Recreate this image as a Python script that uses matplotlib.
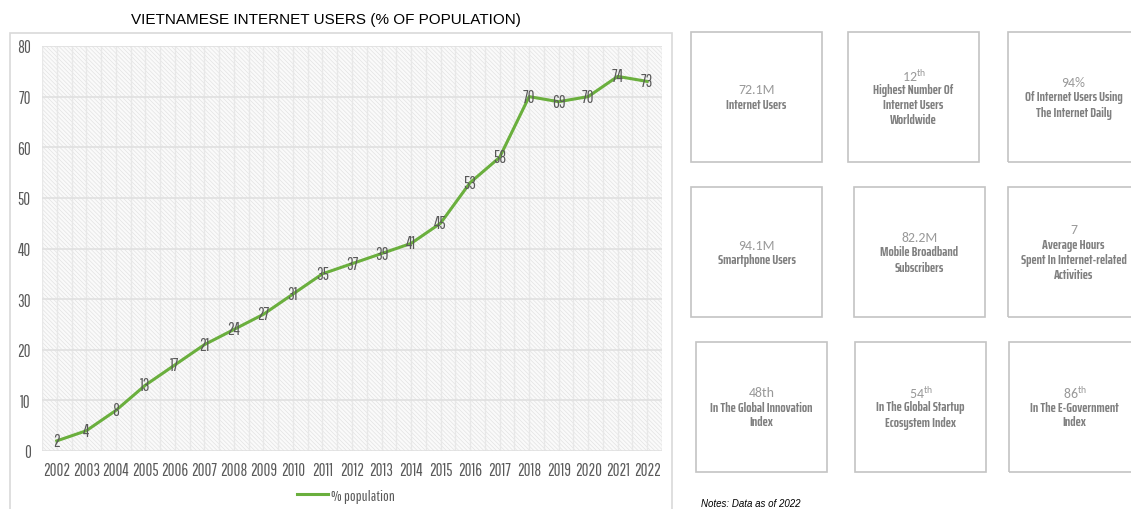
"""
Vietnamese internet users line chart with key figure boxes.
"""
import matplotlib
matplotlib.use('Agg')
import matplotlib.pyplot as plt
from matplotlib.patches import Rectangle

years = [str(y) for y in range(2002, 2023)]
pct_population = [2, 4, 8, 13, 17, 21, 24, 27, 31, 35, 37, 39, 41, 45,
                  53, 58, 70, 69, 70, 74, 73]
y_ticks = [0, 10, 20, 30, 40, 50, 60, 70, 80]

box_values = ['72.1M', r'12$^{\mathrm{th}}$', '94%',
              '94.1M', '82.2M', '7',
              '48th', r'54$^{\mathrm{th}}$', r'86$^{\mathrm{th}}$']
box_labels = [['Internet Users'],
              ['Highest Number Of', 'Internet Users', 'Worldwide'],
              ['Of Internet Users Using', 'The Internet Daily'],
              ['Smartphone Users'],
              ['Mobile Broadband', 'Subscribers'],
              ['Average Hours', 'Spent In Internet-related', 'Activities'],
              ['In The Global Innovation', 'Index'],
              ['In The Global Startup', 'Ecosystem Index'],
              ['In The E-Government', 'Index']]

W, H = 1131, 510
narrow = ['Pathway Gothic One', 'DejaVu Sans']
narrow_bold = ['Saira ExtraCondensed', 'DejaVu Sans']
green = '#6aaf3d'
grey_txt = '#595959'

plt.rcParams['mathtext.fontset'] = 'custom'
plt.rcParams['mathtext.rm'] = 'Carlito'

fig = plt.figure(figsize=(W / 100, H / 100), dpi=100)
fig.patch.set_facecolor('white')

def px(x, y):
    # pixel coords (top-left origin) -> figure fraction
    return x / W, 1 - y / H

# chart frame
x0, y0 = px(10, 34)
fig.patches.append(Rectangle((x0, -0.02), px(672, 0)[0] - x0, y0 + 0.02,
                             transform=fig.transFigure, fill=False,
                             edgecolor='#d9d9d9', lw=1.2))

fig.text(px(326, 20)[0], px(326, 20)[1], 'VIETNAMESE INTERNET USERS (% OF POPULATION)',
         ha='center', va='center', fontsize=11, family='Liberation Sans', color='black')

ax = fig.add_axes([42 / W, 58 / H, 620 / W, 405 / H])
ax.set_xlim(-0.5, len(years) - 0.5)
ax.set_ylim(0, 80)

# hatched background
plt.rcParams['hatch.color'] = '#e3e3e3'
plt.rcParams['hatch.linewidth'] = 0.5
ax.add_patch(Rectangle((-0.5, 0), len(years), 80, facecolor='#fafafa',
                       hatch='\\\\\\\\\\\\\\\\', edgecolor='#e3e3e3', lw=0, zorder=0))

for i in range(2 * len(years) + 1):
    ax.axvline(-0.5 + i * 0.5, color='#e8e8e8', lw=1.0, zorder=1)
for t in y_ticks:
    ax.axhline(t, color='#e0e0e0', lw=1.2, zorder=1)

xs = list(range(len(years)))
ax.plot(xs, pct_population, color=green, lw=2.2, zorder=3, label='% population')
for x, v in zip(xs, pct_population):
    ax.text(x, v, str(v), ha='center', va='center', fontsize=12,
            family=narrow, color=grey_txt, zorder=4)

ax.set_xticks(xs)
ax.set_xticklabels(years, family=narrow, fontsize=12, color=grey_txt)
ax.set_yticks(y_ticks)
ax.set_yticklabels([str(t) for t in y_ticks], family=narrow, fontsize=12, color=grey_txt)
ax.tick_params(length=0, pad=8)
for s in ax.spines.values():
    s.set_visible(False)

ax.legend(loc='center', bbox_to_anchor=(0.49, -0.11), frameon=False,
          prop={'family': narrow, 'size': 11}, handlelength=2.0, handletextpad=0.2,
          labelcolor=grey_txt)

# key figure boxes
box_pos = [(691, 33), (848, 33), (1008, 33),
           (691, 188), (854, 188), (1008, 188),
           (696, 343), (855, 343), (1009, 343)]
bw, bh = 131, 130
for (bx, by), val, lab in zip(box_pos, box_values, box_labels):
    lx, ly = px(bx, by + bh)
    fig.patches.append(Rectangle((lx, ly), bw / W, bh / H, transform=fig.transFigure,
                                 fill=False, edgecolor='#c4c4c4', lw=1.2))
    cx = bx + bw / 2
    cy = by + bh / 2
    n = len(lab) + 1
    for i, line in enumerate([val] + lab):
        yy = cy + (i - (n - 1) / 2) * 15
        fx, fy = px(cx, yy)
        if i == 0:
            fig.text(fx, fy, line, ha='center', va='center', fontsize=10,
                     family='Carlito', color='#999999')
        else:
            fig.text(fx, fy, line, ha='center', va='center', fontsize=10,
                     family=narrow_bold, weight='bold', color='#808080')

fx, fy = px(701, 504)
fig.text(fx, fy, 'Notes: Data as of 2022', ha='left', va='center', fontsize=7,
         style='italic', family='Liberation Sans', color='black')

fig.savefig('out.png', dpi=100)
